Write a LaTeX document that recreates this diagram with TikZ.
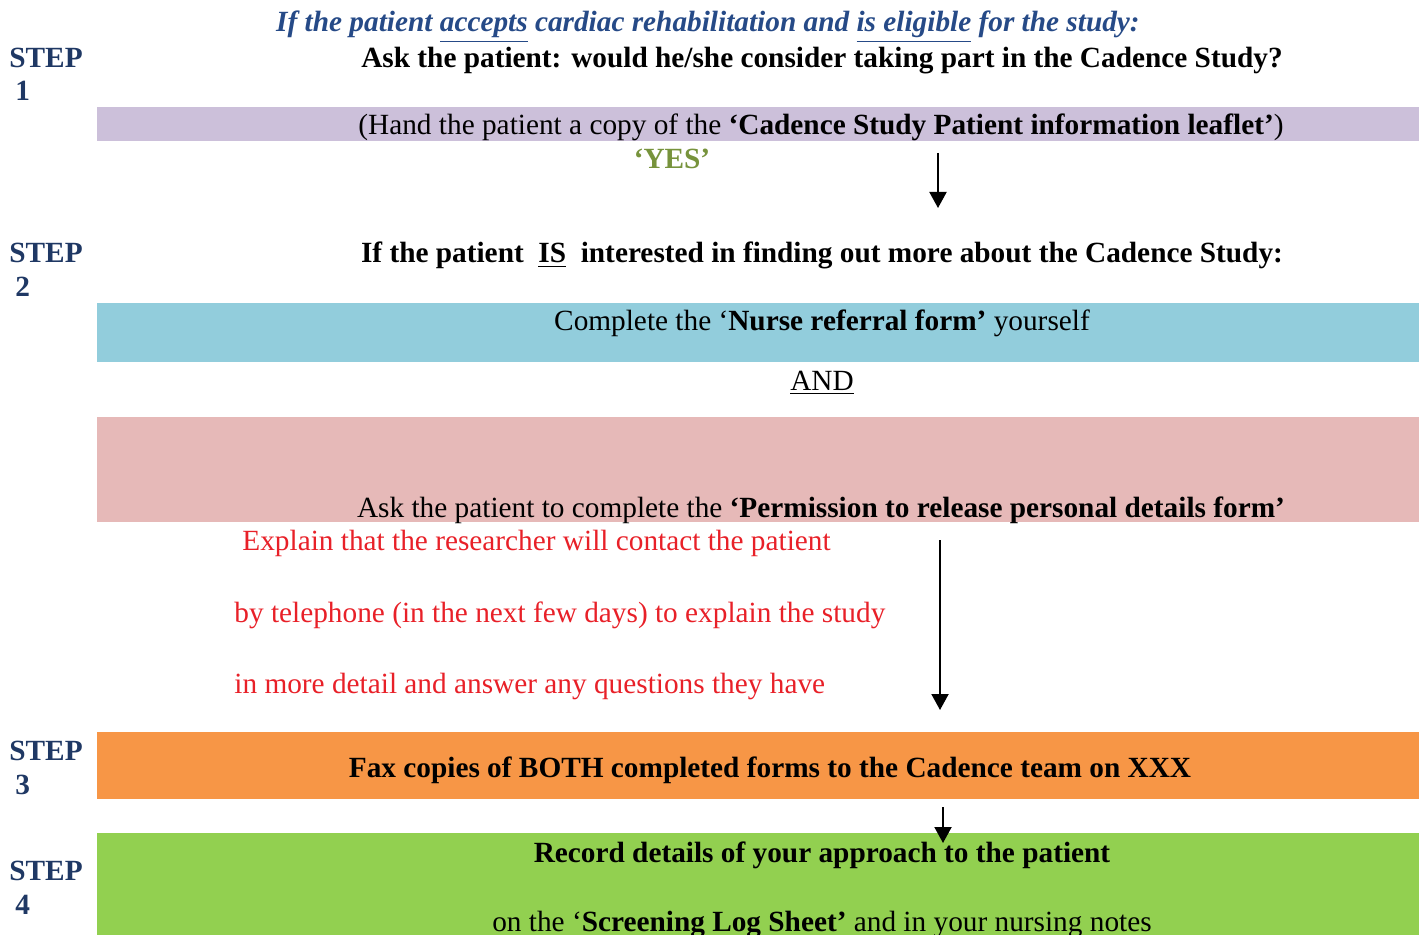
\documentclass[tikz,border=0pt]{standalone}
\usepackage{fontspec}
\setmainfont{Liberation Serif}
\usetikzlibrary{positioning}
\usetikzlibrary{arrows.meta}

\definecolor{stepNavy}{RGB}{31,56,100}
\definecolor{headBlue}{RGB}{38,74,135}
\definecolor{yesGreen}{RGB}{119,147,60}
\definecolor{noteRed}{RGB}{232,32,40}
\definecolor{leafletPurple}{RGB}{204,192,218}
\definecolor{referralBlue}{RGB}{146,205,220}
\definecolor{permissionPink}{RGB}{230,185,184}
\definecolor{faxOrange}{RGB}{247,150,70}
\definecolor{logGreen}{RGB}{146,208,80}

\tikzset{
    band/.style={anchor=north west, inner sep=0pt, minimum width=661pt, minimum height=#1},
    stepLabel/.style={anchor=base west, inner sep=0pt, text=stepNavy, font=\bfseries},
    textLine/.style={anchor=base, inner sep=0pt},
    redLine/.style={anchor=base west, inner sep=0pt, text=noteRed},
    >={Triangle[length=8pt,width=8.5pt]}
}

\begin{document}%
\fontsize{14.65}{17.6}\selectfont%
\begin{tikzpicture}[x=0.5pt, y=-0.5pt]
        \useasboundingbox (0,0) rectangle (1419,935);
        % coloured bands
        \node[band=17pt, fill=leafletPurple] (leafletBand) at (97,107) {};
        \node[band=29.5pt, fill=referralBlue] (referralBand) at (97,303) {};
        \node[band=52.5pt, fill=permissionPink] (permissionBand) at (97,417) {};
        \node[band=33.5pt, fill=faxOrange] (faxBand) at (97,732) {};
        \node[band=60pt, fill=logGreen] (logBand) at (97,833) {};
        % step labels
        \node[stepLabel] (stepOne) at (9,68) {STEP};
        \node[stepLabel] (stepOneNum) at (15,101) {1};
        \node[stepLabel] (stepTwo) at (9,263) {STEP};
        \node[stepLabel] (stepTwoNum) at (15,297) {2};
        \node[stepLabel] (stepThree) at (9,760) {STEP};
        \node[stepLabel] (stepThreeNum) at (15,794) {3};
        \node[stepLabel] (stepFour) at (9,880) {STEP};
        \node[stepLabel] (stepFourNum) at (15,914) {4};
        % step 1
        \node[textLine, text=headBlue, font=\bfseries\itshape] (eligibleHead) at (708,32)
            {If the patient \underline{accepts} cardiac rehabilitation and \underline{is eligible} for the study:};
        \node[textLine, font=\bfseries] (askText) at (822,68)
            {Ask the patient: would he/she consider taking part in the Cadence Study?};
        \node[textLine] (leafletText) at (821,135)
            {(Hand the patient a copy of the \textbf{‘Cadence Study Patient information leaflet’})};
        \node[textLine, text=yesGreen, font=\bfseries] (yesText) at (672,169) {‘YES’};
        % step 2
        \node[textLine, font=\bfseries] (interestText) at (822,263)
            {If the patient\ \ \underline{IS}\ \ interested in finding out more about the Cadence Study:};
        \node[textLine] (referralText) at (822,331) {Complete the ‘\textbf{Nurse referral form’} yourself};
        \node[textLine] (andText) at (822,391) {\underline{AND}};
        \node[textLine] (permissionText) at (821,517)
            {Ask the patient to complete the \textbf{‘Permission to release personal details form’}};
        \node[redLine] (explainOne) at (242,551) {Explain that the researcher will contact the patient};
        \node[redLine] (explainTwo) at (234,622) {by telephone (in the next few days) to explain the study};
        \node[redLine] (explainThree) at (234,693) {in more detail and answer any questions they have};
        % step 3 and 4
        \node[textLine, font=\bfseries] (faxText) at (770,777)
            {Fax copies of BOTH completed forms to the Cadence team on XXX};
        \node[textLine, font=\bfseries] (recordText) at (822,862) {Record details of your approach to the patient};
        \node[textLine] (logText) at (822,931) {on the ‘\textbf{Screening Log Sheet’} and in your nursing notes};
        % arrows
        \coordinate (yesStart) at (938,153);
        \coordinate (yesEnd) at (938,208);
        \coordinate (formsStart) at (940,540);
        \coordinate (formsEnd) at (940,710);
        \coordinate (faxStart) at (943,807);
        \coordinate (faxEnd) at (943,843);
        \draw [line width=1pt, ->] (yesStart) -- (yesEnd);
        \draw [line width=1pt, ->] (formsStart) -- (formsEnd);
        \draw [line width=1pt, ->] (faxStart) -- (faxEnd);
\end{tikzpicture}
\end{document}
